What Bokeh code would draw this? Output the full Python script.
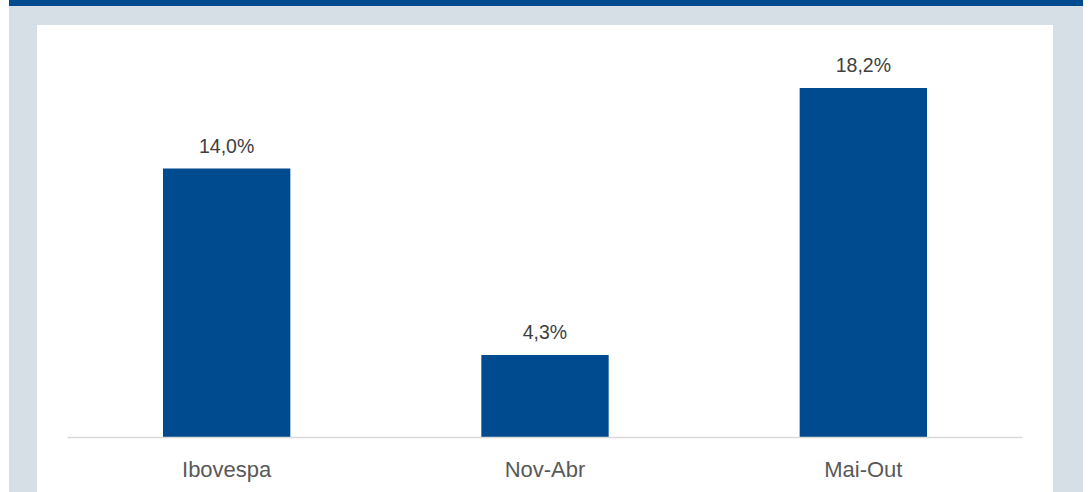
from bokeh.plotting import figure
from bokeh.models import ColumnDataSource, LabelSet, Range1d
from bokeh.core.properties import value
from bokeh.embed import file_html
from bokeh.resources import INLINE

categories = ["Ibovespa", "Nov-Abr", "Mai-Out"]
values = [14.0, 4.3, 18.2]
labels = ["14,0%", "4,3%", "18,2%"]

BAR = "#004A8F"
GRAY = "#D7DFE6"

src = ColumnDataSource(dict(cat=categories, val=values, lab=labels))

bg = {
    "background-color": "white",
    "background-image": (
        f"linear-gradient({BAR},{BAR}), linear-gradient(#ffffff,#ffffff), "
        f"linear-gradient({GRAY},{GRAY})"
    ),
    "background-size": "1074px 6px, 1016px 467px, 1074px 492px",
    "background-position": "9px 0px, 37px 25px, 9px 0px",
    "background-repeat": "no-repeat",
}

p = figure(
    x_range=categories,
    y_range=Range1d(0, 21.45),
    width=1091,
    height=492,
    output_backend="svg",
    toolbar_location=None,
    min_border_left=67,
    min_border_right=69,
    min_border_top=25,
    min_border_bottom=55,
    styles=bg,
)
p.border_fill_color = None
p.background_fill_color = None
p.outline_line_color = None
p.x_range.range_padding = 0
p.yaxis.visible = False
p.xgrid.visible = False
p.ygrid.visible = False

p.vbar(x="cat", top="val", width=0.4, source=src, fill_color=BAR, line_color=None)

p.add_layout(
    LabelSet(
        x="cat", y="val", text="lab", source=src,
        text_align="center", text_baseline="alphabetic", y_offset=16,
        text_font=value("Liberation Sans"), text_font_size=value("19.5px"),
        text_color="#404040",
    )
)

ax = p.xaxis[0]
ax.axis_line_color = "#D9D9D9"
ax.axis_line_width = 1.5
ax.major_tick_line_color = None
ax.minor_tick_line_color = None
ax.major_tick_in = 0
ax.major_tick_out = 0
ax.major_label_standoff = 19
ax.major_label_text_font = "Liberation Sans"
ax.major_label_text_font_size = "22px"
ax.major_label_text_color = "#595959"

html = file_html(p, INLINE)
html = html.replace("<head>", "<head><style>body{margin:0;}</style>", 1)
open("out.html", "w").write(html)
